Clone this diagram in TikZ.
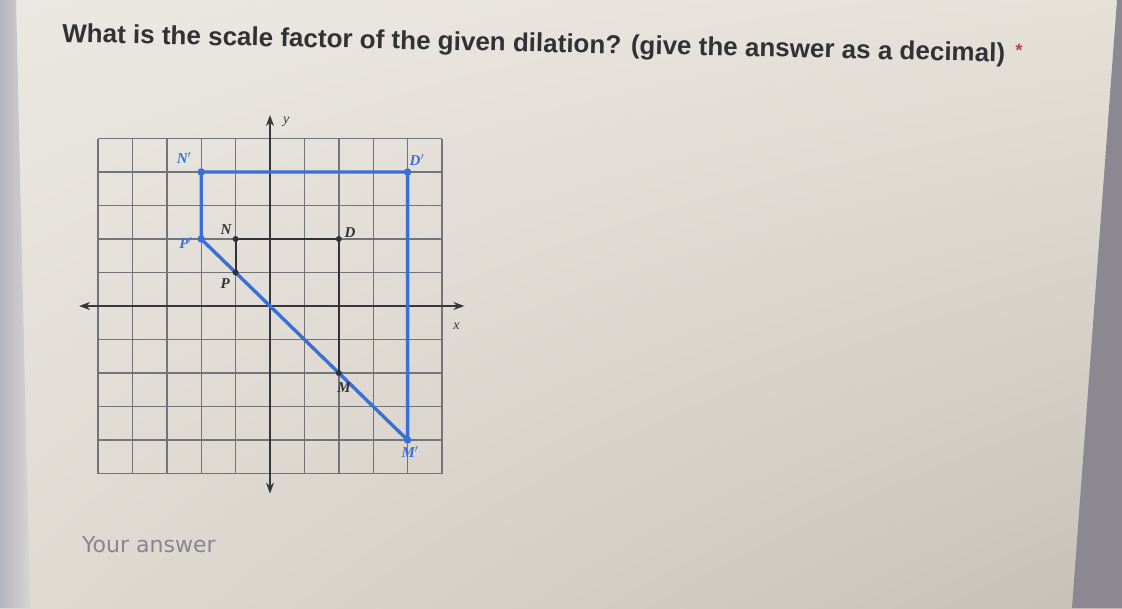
\documentclass[tikz,border=0pt]{standalone}
\usepackage{fontspec}
\setmainfont{Liberation Sans}
\newfontfamily\serifit{Liberation Serif}
\newfontfamily\dejavu{DejaVu Sans}
\usetikzlibrary{arrows.meta,shadings}
\definecolor{gridgray}{RGB}{115,115,122}
\definecolor{axisdark}{RGB}{55,55,60}
\definecolor{figblue}{RGB}{58,112,214}
\definecolor{figblack}{RGB}{50,50,54}
\definecolor{titlegray}{RGB}{50,50,53}
\definecolor{answergray}{RGB}{135,135,138}
\definecolor{starred}{RGB}{190,60,60}
\definecolor{paperUL}{RGB}{235,232,226}
\definecolor{paperUR}{RGB}{229,225,217}
\definecolor{paperLL}{RGB}{223,219,211}
\definecolor{paperLR}{RGB}{198,193,184}
\definecolor{edgeL}{RGB}{178,180,192}
\definecolor{edgeLin}{RGB}{214,213,212}
\definecolor{edgeR}{RGB}{140,136,146}
\tikzset{
  gridline/.style={draw=gridgray, line width=1.4pt},
  axisline/.style={draw=axisdark, line width=1.5pt, >={Stealth[length=11pt, width=8pt]}},
  bluefig/.style={draw=figblue, line width=3.4pt, line join=round},
  blackfig/.style={draw=figblack, line width=2.2pt, line join=round},
  bluedot/.style={fill=figblue, circle, inner sep=0pt, minimum size=7.5pt},
  blackdot/.style={fill=figblack, circle, inner sep=0pt, minimum size=6pt},
  bluelbl/.style={text=figblue, font=\serifit\itshape\bfseries\fontsize{15}{15}\selectfont, inner sep=0pt},
  blacklbl/.style={text=figblack, font=\serifit\itshape\bfseries\fontsize{15}{15}\selectfont, inner sep=0pt},
  axislbl/.style={text=axisdark, font=\serifit\itshape\fontsize{14}{14}\selectfont, inner sep=0pt}
}
\begin{document}
\begin{tikzpicture}[x=1pt,y=-1pt]
\useasboundingbox (0,0) rectangle (1122,608);
% paper background
\shade[upper left=paperUL, upper right=paperUR, lower left=paperLL, lower right=paperLR] (0,0) rectangle (1122,608);
% left edge band
\shade[left color=edgeL, right color=edgeLin] (0,0) -- (16,0) -- (30,608) -- (0,608) -- cycle;
% right edge (dark beyond paper)
\fill[edgeR] (1117,0) -- (1122,0) -- (1122,608) -- (1072,608) -- cycle;

% title
\node[anchor=base west, rotate=-1.2, text=titlegray, inner sep=0pt,
      font=\bfseries\fontsize{26}{30}\selectfont] (title) at (62,42)
  {What is the scale factor of the given dilation? (give the answer as a decimal)\hspace{0.4em}{\color{starred}\fontsize{18}{18}\selectfont\raisebox{5pt}{*}}};

% answer prompt
\node[anchor=base west, text=answergray, inner sep=0pt,
      font=\dejavu\fontsize{22}{26}\selectfont] (answer) at (82,552) {Your answer};

% coordinate grid
\begin{scope}[shift={(270,306)}, x=34.4pt, y=33.5pt]
  \foreach \i in {-5,...,5} {
    \draw[gridline] (\i,-5) -- (\i,5);
    \draw[gridline] (-5,\i) -- (5,\i);
  }
  \coordinate (xl) at (-5.55,0);
  \coordinate (xr) at (5.65,0);
  \coordinate (yt) at (0,5.7);
  \coordinate (yb) at (0,-5.6);
  \draw[axisline, <->] (xl) -- (xr);
  \draw[axisline, <->] (yb) -- (yt);
  \node[axislbl] (xlab) at (5.42,-0.6) {x};
  \node[axislbl] (ylab) at (0.47,5.5) {y};

  % original figure NDMP
  \coordinate (N) at (-1,2);
  \coordinate (D) at (2,2);
  \coordinate (M) at (2,-2);
  \coordinate (P) at (-1,1);
  \draw[blackfig] (P) -- (N) -- (D) -- (M);

  % image figure N'D'M'P'
  \coordinate (Np) at (-2,4);
  \coordinate (Dp) at (4,4);
  \coordinate (Mp) at (4,-4);
  \coordinate (Pp) at (-2,2);
  \draw[bluefig] (Pp) -- (Np) -- (Dp) -- (Mp) -- cycle;

  \foreach \p in {N,D,M,P} \node[blackdot] at (\p) {};
  \foreach \p in {Np,Dp,Mp,Pp} \node[bluedot] at (\p) {};

  \node[blacklbl] (Nl) at (-1.28,2.29) {N};
  \node[blacklbl] (Dl) at (2.33,2.2) {D};
  \node[blacklbl] (Pl) at (-1.3,0.68) {P};
  \node[blacklbl] (Ml) at (2.15,-2.45) {M};
  \node[bluelbl] (Npl) at (-2.5,4.43) {N$'$};
  \node[bluelbl] (Dpl) at (4.27,4.36) {D$'$};
  \node[bluelbl] (Ppl) at (-2.45,1.88) {P$'$};
  \node[bluelbl] (Mpl) at (4.07,-4.36) {M$'$};
\end{scope}
\end{tikzpicture}
\end{document}
